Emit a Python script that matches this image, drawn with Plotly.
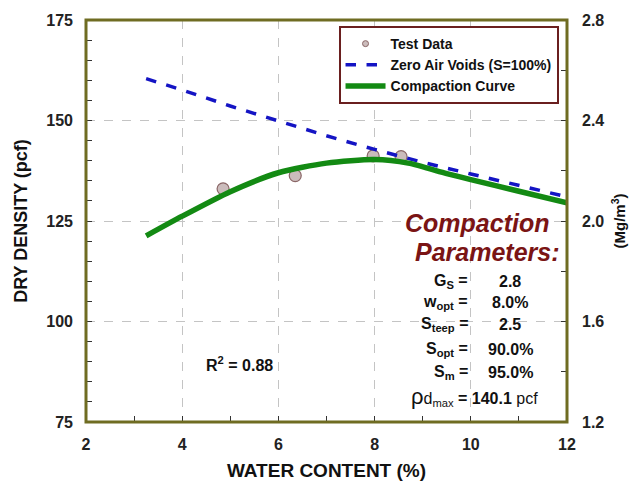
import plotly.graph_objects as go

# Laboratory compaction test results
test_w = [4.85, 6.35, 7.97, 8.55]
test_rho = [133.0, 136.3, 141.2, 141.0]

# Zero air voids line (S = 100%), Gs = 2.8
zav_w = [3.25, 4.0, 5.0, 6.0, 7.0, 8.0, 9.0, 10.0, 11.0, 12.0]
zav_rho = [160.4, 157.6, 153.6, 149.8, 146.2, 142.8, 139.6, 136.7, 133.8, 131.0]

# Fitted compaction curve
cc_w = [3.25, 4.0, 5.0, 6.0, 7.0, 8.0, 8.7, 9.5, 10.0, 11.0, 12.0]
cc_rho = [121.3, 126.2, 132.3, 137.0, 139.4, 140.3, 139.4, 136.8, 135.3, 132.4, 129.5]

# Axis ticks
x_ticks = [2, 4, 6, 8, 10, 12]
y_ticks = [75, 100, 125, 150, 175]
y2_ticks = [1.2, 1.6, 2.0, 2.4, 2.8]

# Parameter table
param_labels = ["G<sub>S</sub> =", "w<sub>opt</sub> =", "S<sub>teep</sub> =",
                "S<sub>opt</sub> =", "S<sub>m</sub> ="]
param_values = ["2.8", "8.0%", "2.5", "90.0%", "95.0%"]
rho_max = 140.1
r_squared = 0.88

FONT = "Arial, Liberation Sans, sans-serif"
BORDER = "#6f6c22"
MARKER_FILL = "#cbbcbc"
MARKER_EDGE = "#8a6666"

fig = go.Figure()

fig.add_trace(go.Scatter(
    x=test_w, y=test_rho, mode="markers", name="Test Data", showlegend=False,
    marker=dict(size=12, color=MARKER_FILL, line=dict(color=MARKER_EDGE, width=1.2)),
))
# legend entry for the test data uses a smaller symbol
fig.add_trace(go.Scatter(
    x=[None], y=[None], mode="markers", name="Test Data",
    marker=dict(size=6, color=MARKER_FILL, line=dict(color=MARKER_EDGE, width=1)),
))
fig.add_trace(go.Scatter(
    x=zav_w, y=zav_rho, mode="lines", name="Zero Air Voids (S=100%)",
    line=dict(color="#1414c4", width=3.5, dash="dash"),
))
fig.add_trace(go.Scatter(
    x=cc_w, y=cc_rho, mode="lines", name="Compaction Curve",
    line=dict(color="#138a13", width=5.5, shape="spline", smoothing=0.7),
))
# anchors the secondary density axis (Mg/m3)
fig.add_trace(go.Scatter(
    x=[2], y=[1.2], yaxis="y2", mode="markers", showlegend=False,
    marker=dict(opacity=0), hoverinfo="skip",
))

tick_font = dict(family=FONT, size=16, color="#222", weight="bold")

fig.update_layout(
    width=638, height=489,
    margin=dict(l=86, r=68, t=19, b=65),
    paper_bgcolor="white", plot_bgcolor="white",
    font=dict(family=FONT, color="#111"),
    xaxis=dict(
        range=[2, 12], tickvals=x_ticks, ticktext=[str(v) for v in x_ticks],
        ticks="inside", ticklen=5, tickcolor="#333", tickfont=tick_font,
        ticklabelstandoff=11,
        showgrid=True, gridcolor="#c4c4c4", griddash="dash", gridwidth=1,
        minor=dict(dtick=1, ticks="inside", ticklen=6, tickcolor="#333", showgrid=False),
        zeroline=False,
        title=dict(text="WATER CONTENT (%)", standoff=11,
                   font=dict(family=FONT, size=19, color="#111", weight="bold")),
    ),
    yaxis=dict(
        range=[75, 175], tickvals=y_ticks, ticktext=[str(v) for v in y_ticks],
        ticks="inside", ticklen=6, tickcolor="#333", tickfont=tick_font,
        ticklabelstandoff=12,
        showgrid=True, gridcolor="#c4c4c4", griddash="dash", gridwidth=1,
        minor=dict(dtick=5, ticks="inside", ticklen=6, tickcolor="#333", showgrid=False),
        zeroline=False,
        title=dict(text="DRY DENSITY (pcf)", standoff=13,
                   font=dict(family=FONT, size=18, color="#111", weight="bold")),
    ),
    yaxis2=dict(
        range=[1.2, 2.8], overlaying="y", side="right",
        tickvals=y2_ticks, ticktext=[f"{v:.1f}" for v in y2_ticks],
        ticks="inside", ticklen=6, tickcolor="#333", tickfont=tick_font,
        ticklabelstandoff=14,
        showgrid=False, zeroline=False,
        minor=dict(dtick=0.2, ticks="inside", ticklen=6, tickcolor="#333"),
        title=dict(text="(Mg/m<sup>3</sup>)", standoff=11,
                   font=dict(family=FONT, size=15, color="#111", weight="bold")),
    ),
    legend=dict(
        x=0.525, y=0.985, xanchor="left", yanchor="top",
        bgcolor="white", bordercolor="#6a1f1f", borderwidth=2,
        font=dict(family=FONT, size=14, color="#111", weight="bold"),
        tracegroupgap=2, itemwidth=40,
    ),
    showlegend=True,
)

# plot frame
fig.add_shape(type="rect", xref="paper", yref="paper", x0=0, y0=0, x1=1, y1=1,
              line=dict(color=BORDER, width=3), layer="above")


def px_x(px):
    return 2 + (px - 86) / 484 * 10


def px_y(py):
    return 175 - (py - 19) / 405 * 100


# Compaction parameters block
fig.add_annotation(x=px_x(479), y=px_y(224), showarrow=False,
                   text="<b><i>Compaction</i></b>", xanchor="center", yanchor="middle",
                   font=dict(family=FONT, size=25, color="#7a1414"))
fig.add_annotation(x=px_x(490), y=px_y(253), showarrow=False,
                   text="<b><i>Parameters:</i></b>", xanchor="center", yanchor="middle",
                   font=dict(family=FONT, size=25, color="#7a1414"))

row_y = [282, 304, 326, 351, 374]
for lab, val, ry in zip(param_labels, param_values, row_y):
    fig.add_annotation(x=px_x(472), y=px_y(ry), showarrow=False, text=f"<b>{lab}</b>",
                       xanchor="right", yanchor="middle",
                       font=dict(family=FONT, size=16, color="#111"))
    fig.add_annotation(x=px_x(513), y=px_y(ry), showarrow=False, text=f"<b>{val}</b>",
                       xanchor="center", yanchor="middle",
                       font=dict(family=FONT, size=16, color="#111"))

fig.add_annotation(x=px_x(477), y=px_y(398), showarrow=False,
                   text=(f"<span style='font-size:22px'>ρ</span>d<sub>max</sub>"
                         f" <b>= {rho_max:.1f}</b> pcf"),
                   xanchor="center", yanchor="middle",
                   font=dict(family=FONT, size=16, color="#111"))

fig.add_annotation(x=px_x(240), y=px_y(366), showarrow=False,
                   text=f"<b>R<sup>2</sup> = {r_squared:.2f}</b>",
                   xanchor="center", yanchor="middle",
                   font=dict(family=FONT, size=16, color="#111"))

fig.write_html("out.html")
